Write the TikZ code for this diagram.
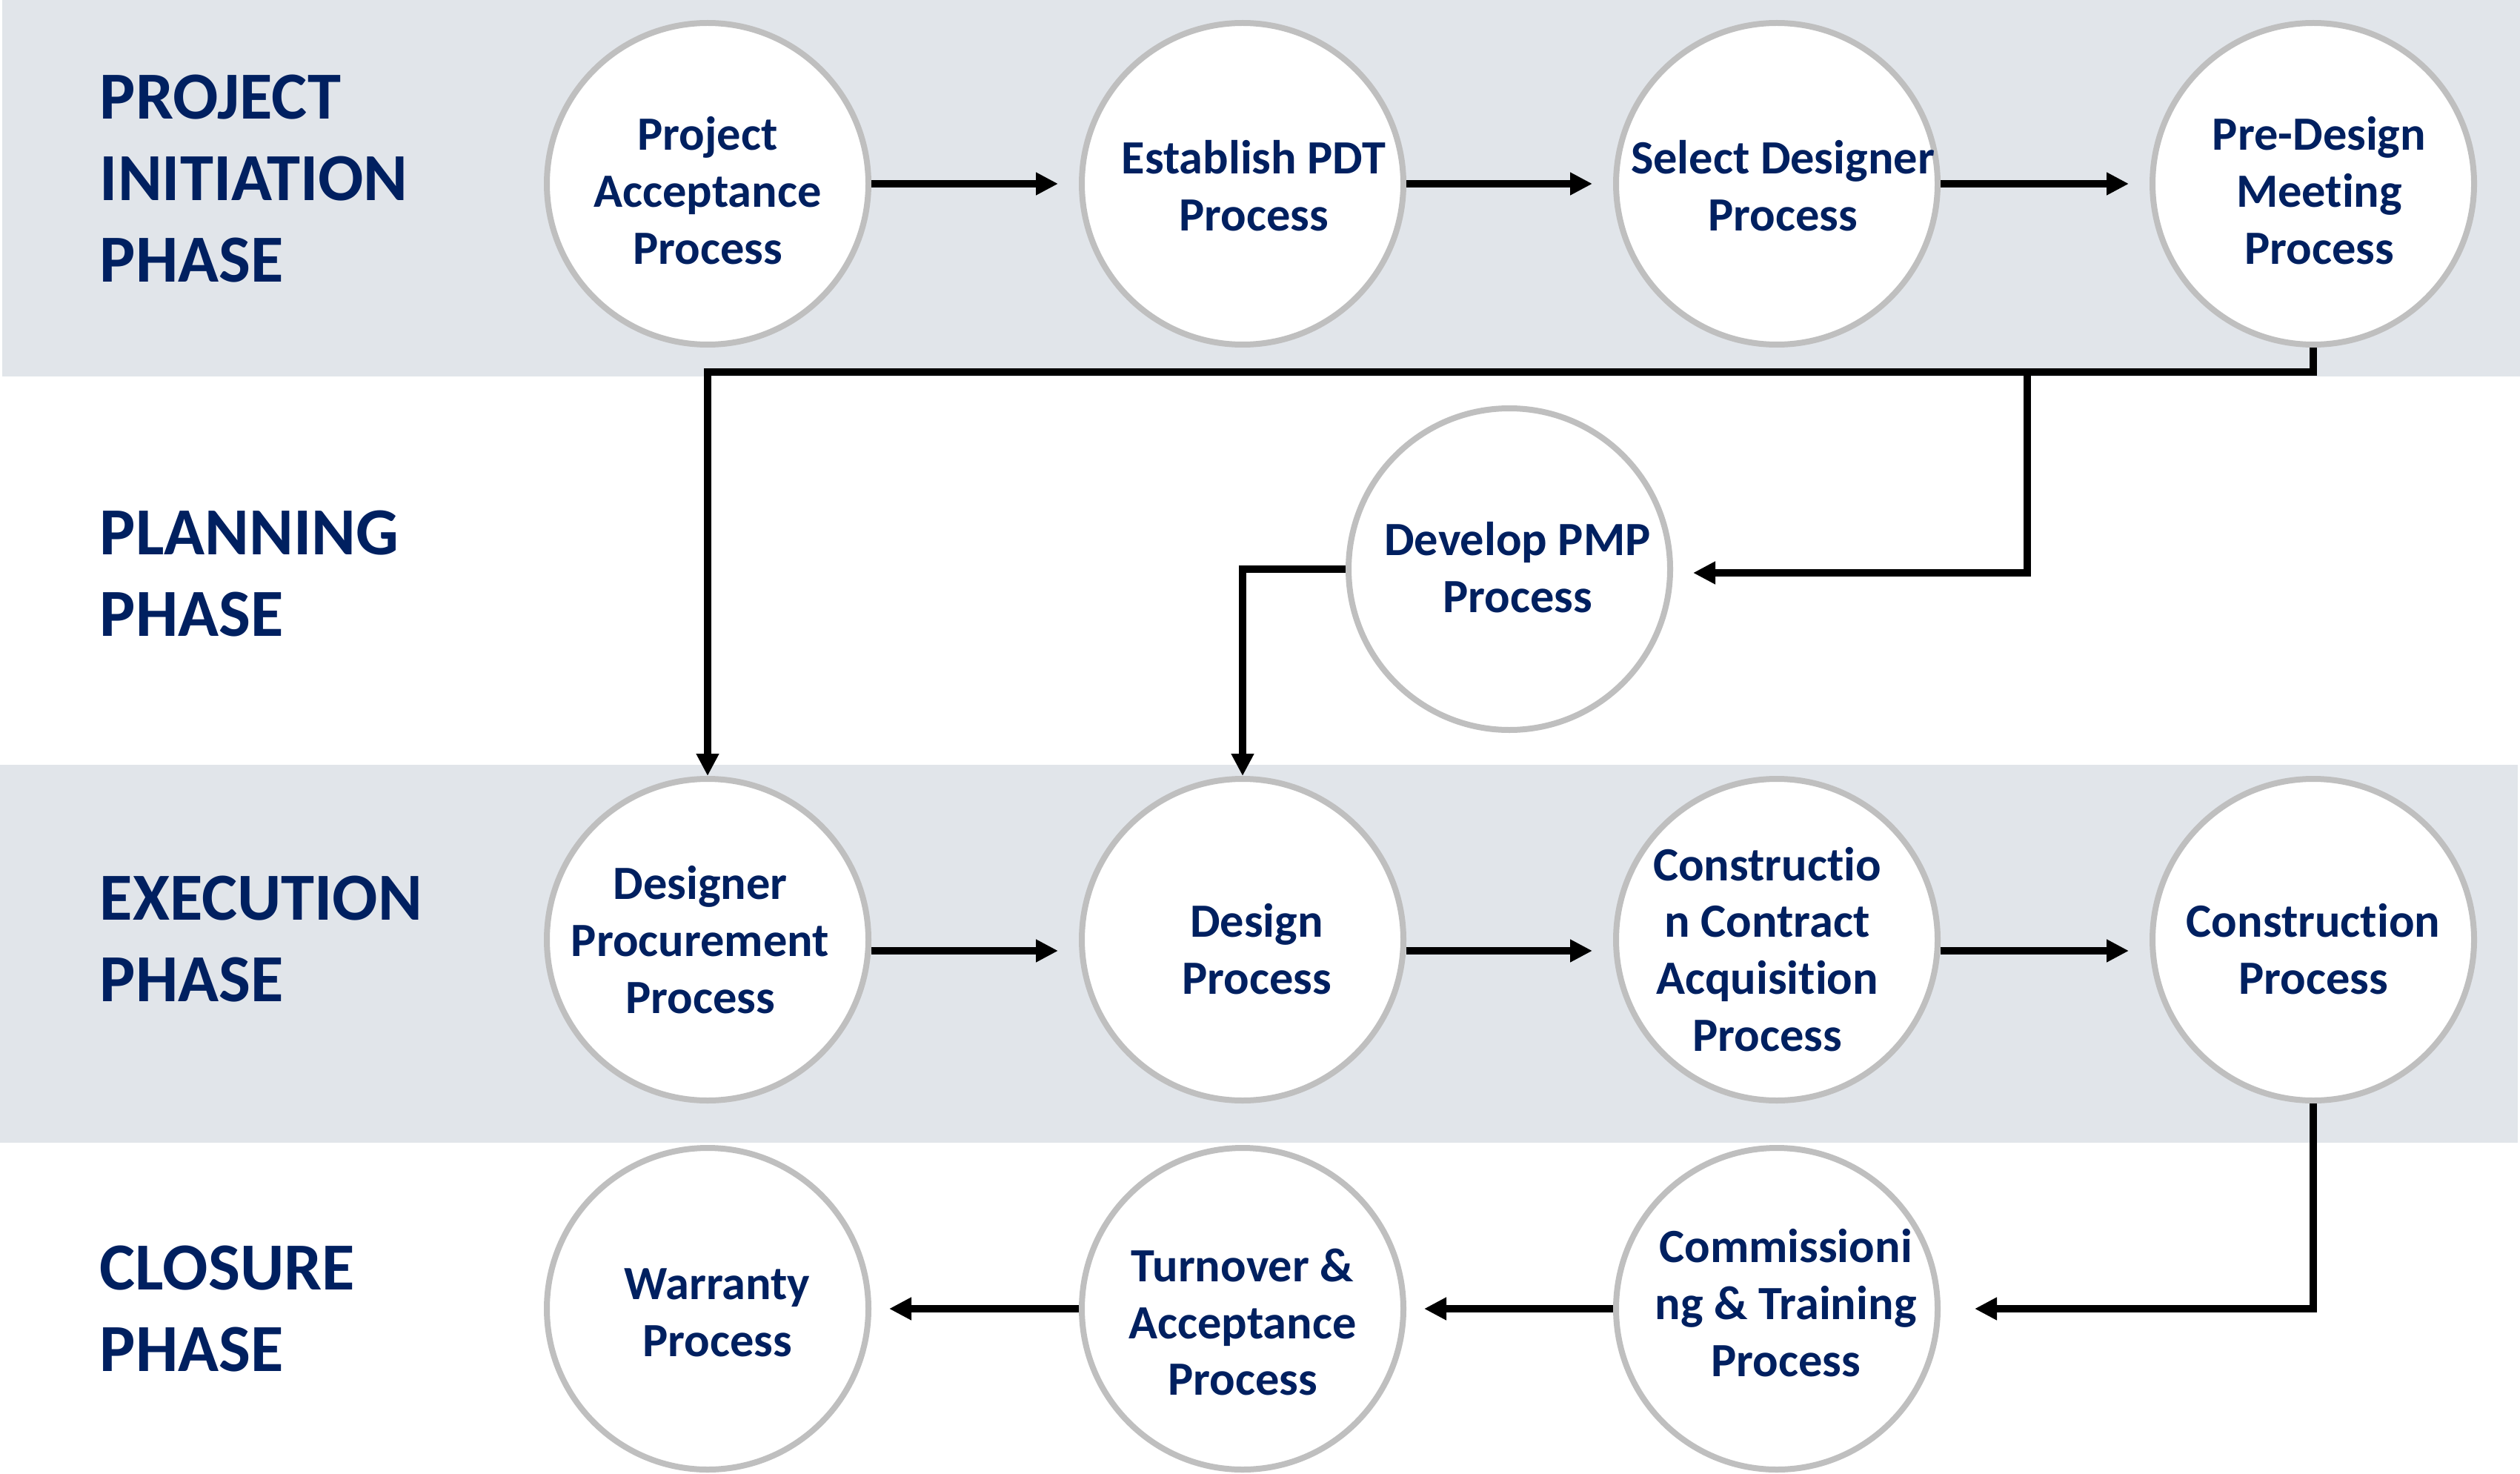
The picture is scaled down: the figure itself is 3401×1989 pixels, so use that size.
\documentclass[tikz,border=0pt]{standalone}
\usepackage{fontspec}
\setmainfont{Carlito}[Ligatures={NoCommon}]
\usetikzlibrary{arrows.meta}
\definecolor{bandc}{HTML}{E1E5EA}
\definecolor{navy}{HTML}{002060}
\definecolor{ring}{HTML}{BFBFBF}
\begin{document}
\begin{tikzpicture}[x=0.25pt,y=-0.25pt,
  proc/.style={circle, draw=ring, line width=2pt, fill=white, minimum size=108.5pt, inner sep=0pt},
  ptxt/.style={text=navy, font=\bfseries\fontsize{16.1pt}{19.2pt}\selectfont, align=center, inner sep=0pt},
  phase/.style={text=navy, font=\bfseries\fontsize{22.7pt}{27.5pt}\selectfont, align=left, anchor=west, inner sep=0pt},
  conn/.style={line width=2.5pt, line join=miter},
  arr/.style={conn, -{Triangle[length=7.5pt,width=7.25pt]}},
]
\useasboundingbox (0,0) rectangle (3401,1989);
\fill[white] (0,0) rectangle (3401,1989);
\fill[bandc] (3,0) rectangle (3401,508);
\fill[bandc] (0,1032) rectangle (3398,1542);

% phase labels
\node[phase] (l1) at (134,241) {PROJECT\\INITIATION\\PHASE};
\node[phase] (l2) at (134,774) {PLANNING\\PHASE};
\node[phase] (l3) at (134,1267) {EXECUTION\\PHASE};
\node[phase] (l4) at (134,1766) {CLOSURE\\PHASE};

% circles
\node[proc] (c1) at (955,248) {};
\node[proc] (c2) at (1677,248) {};
\node[proc] (c3) at (2398,248) {};
\node[proc] (c4) at (3122,248) {};
\node[proc] (pmp) at (2037,768) {};
\node[proc] (e1) at (955,1268) {};
\node[proc] (e2) at (1677,1268) {};
\node[proc] (e3) at (2398,1268) {};
\node[proc] (e4) at (3122,1268) {};
\node[proc] (f1) at (955,1766) {};
\node[proc] (f2) at (1677,1766) {};
\node[proc] (f3) at (2398,1766) {};

% circle texts
\node[ptxt] (c1t) at ([shift={(0,9)}]c1.center) {Project\\Acceptance\\Process};
\node[ptxt] (c2t) at ([shift={(15,3)}]c2.center) {Establish PDT\\Process};
\node[ptxt] (c3t) at ([shift={(8,3)}]c3.center) {Select Designer\\Process};
\node[ptxt] (c4t) at ([shift={(8,9)}]c4.center) {Pre-Design\\Meeting\\Process};
\node[ptxt] (pmpt) at ([shift={(11,-2)}]pmp.center) {Develop PMP\\Process};
\node[ptxt] (e1t) at ([shift={(-10,0)}]e1.center) {Designer\\Procurement\\Process};
\node[ptxt] (e2t) at ([shift={(19,13)}]e2.center) {Design\\Process};
\node[ptxt] (e3t) at ([shift={(-13,13)}]e3.center) {Constructio\\n Contract\\Acquisition\\Process};
\node[ptxt] (e4t) at ([shift={(0,13)}]e4.center) {Construction\\Process};
\node[ptxt] (f1t) at ([shift={(13,5)}]f1.center) {Warranty\\Process};
\node[ptxt] (f2t) at ([shift={(0,18)}]f2.center) {Turnover \&\\Acceptance\\Process};
\node[ptxt] (f3t) at ([shift={(12,-8)}]f3.center) {Commissioni\\ng \& Training\\Process};

% row arrows
\draw[arr] (c1.east) -- ([xshift=-7pt]c2.west);
\draw[arr] (c2.east) -- ([xshift=-7pt]c3.west);
\draw[arr] (c3.east) -- ([xshift=-7pt]c4.west);
\draw[arr] ([yshift=-3.75pt]e1.east) -- ([xshift=-7pt,yshift=-3.75pt]e2.west);
\draw[arr] ([yshift=-3.75pt]e2.east) -- ([xshift=-7pt,yshift=-3.75pt]e3.west);
\draw[arr] ([yshift=-3.75pt]e3.east) -- ([xshift=-7pt,yshift=-3.75pt]e4.west);
\draw[arr] (f3.west) -- ([xshift=6pt]f2.east);
\draw[arr] (f2.west) -- ([xshift=6pt]f1.east);

% routed connectors
\coordinate (j1) at (2736,502);
\draw[conn] (c4.south) |- (j1);
\draw[arr] (j1) -| (e1.north);
\draw[arr] (j1) |- ([xshift=6.75pt,yshift=-1.25pt]pmp.east);
\draw[arr] (pmp.west) -| (e2.north);
\draw[arr] (e4.south) |- ([xshift=11.5pt]f3.east);
\end{tikzpicture}
\end{document}
